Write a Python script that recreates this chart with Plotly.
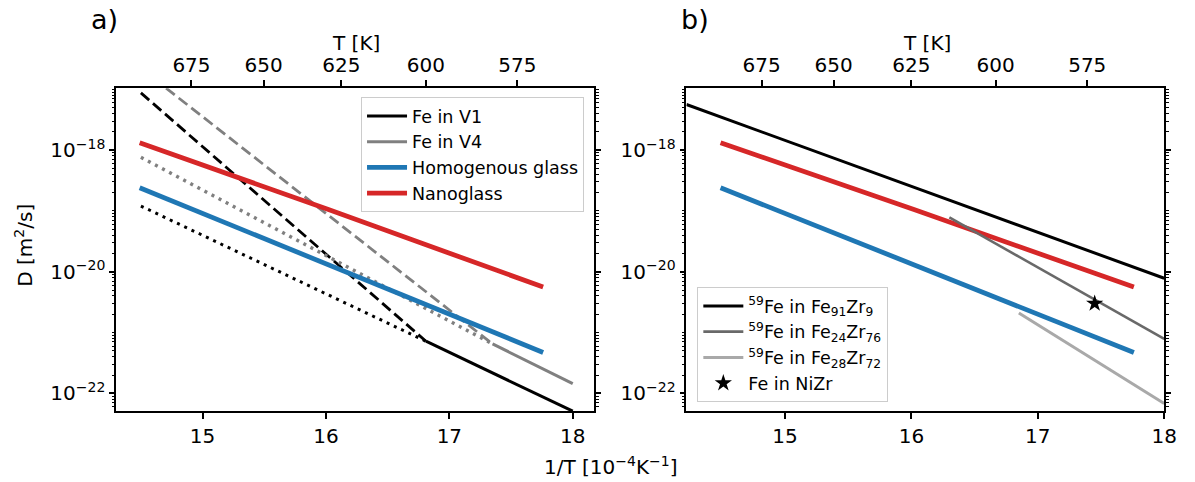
import plotly.graph_objects as go

# ---------------- data (x = 1/T in 1e-4 K^-1, D in m^2/s) ----------------
# panel a
x_v1_dash = [14.50, 16.81]
D_v1_dash = [8.7e-18, 7.2e-22]
x_v1_dot = [14.50, 16.81]
D_v1_dot = [1.2e-19, 7.2e-22]
x_v1 = [16.81, 18.00]
D_v1 = [7.2e-22, 5.1e-23]

x_v4_dash = [14.50, 17.35]
D_v4_dash = [2.2e-17, 6.5e-22]
x_v4_dot = [14.50, 17.35]
D_v4_dot = [7.6e-19, 6.5e-22]
x_v4 = [17.35, 18.00]
D_v4 = [6.5e-22, 1.45e-22]

x_homo = [14.49, 16.02, 17.76]
D_homo = [2.4e-19, 1.29e-20, 4.7e-22]
x_nano = [14.49, 16.02, 17.76]
D_nano = [1.32e-18, 1.05e-19, 5.6e-21]

# panel b
x_fe91 = [14.22, 18.00]
D_fe91 = [5.6e-18, 7.8e-21]
x_fe24 = [16.30, 18.00]
D_fe24 = [7.8e-20, 7.9e-22]
x_fe28 = [16.85, 18.00]
D_fe28 = [2.1e-21, 6.8e-23]
x_nizr = [17.45]
D_nizr = [3.0e-21]

T_ticks = [675, 650, 625, 600, 575]
x_ticks = [15, 16, 17, 18]
y_major = [1e-22, 1e-20, 1e-18]
y_major_text = ["10<sup>\u221222</sup>", "10<sup>\u221220</sup>", "10<sup>\u221218</sup>"]

FONT = "DejaVu Sans"
BLUE = "#1f77b4"
RED = "#d62728"

fig = go.Figure()

def line(x, y, color, width, dash="solid", name=None, legend=None, xa="x", ya="y"):
    fig.add_trace(go.Scatter(
        x=x, y=y, mode="lines", xaxis=xa, yaxis=ya,
        line=dict(color=color, width=width, dash=dash),
        name=name if name else "", showlegend=name is not None,
        legend=legend if legend else "legend", hoverinfo="skip"))

# panel a
line(x_v1_dash, D_v1_dash, "black", 2.8, "11px,5px")
line(x_v1_dot, D_v1_dot, "black", 3, "3px,5px")
line(x_v4_dash, D_v4_dash, "gray", 2.8, "11px,5px")
line(x_v4_dot, D_v4_dot, "gray", 3.5, "3px,5px")
line(x_v1, D_v1, "black", 3, name="Fe in V1")
line(x_v4, D_v4, "gray", 3, name="Fe in V4")
line(x_homo, D_homo, BLUE, 4.8, name="Homogenous glass")
line(x_nano, D_nano, RED, 4.8, name="Nanoglass")

# panel b
line(x_homo, D_homo, BLUE, 4.8, xa="x2", ya="y2")
line(x_nano, D_nano, RED, 4.8, xa="x2", ya="y2")
line(x_fe91, D_fe91, "black", 3, name="<sup>59</sup>Fe in Fe<sub>91</sub>Zr<sub>9</sub>",
     legend="legend2", xa="x2", ya="y2")
line(x_fe24, D_fe24, "#696969", 2.6, name="<sup>59</sup>Fe in Fe<sub>24</sub>Zr<sub>76</sub>",
     legend="legend2", xa="x2", ya="y2")
line(x_fe28, D_fe28, "#a9a9a9", 3, name="<sup>59</sup>Fe in Fe<sub>28</sub>Zr<sub>72</sub>",
     legend="legend2", xa="x2", ya="y2")
fig.add_trace(go.Scatter(
    x=x_nizr, y=D_nizr, mode="markers", xaxis="x2", yaxis="y2",
    marker=dict(symbol="star", size=13, color="black"),
    name="Fe in NiZr", legend="legend2", hoverinfo="skip"))

# invisible helper traces so that the top (temperature) axes are drawn
x_top = [1e4 / t for t in T_ticks]
for xa, ya in (("x3", "y"), ("x4", "y2")):
    fig.add_trace(go.Scatter(
        x=x_top, y=[D_nizr[0]] * len(x_top), mode="markers", xaxis=xa, yaxis=ya,
        marker=dict(size=1, opacity=0), showlegend=False, hoverinfo="skip"))

# minor ticks for log axis
minor_vals = []
for e in range(-24, -15):
    for k in range(1, 10):
        v = k * 10.0 ** e
        if k == 1 and e in (-22, -20, -18):
            continue
        minor_vals.append(v)

W, H = 1195, 482
def px_x(p):
    return p / W
def px_y(p):
    return 1 - p / H

ydom = [px_y(411), px_y(88.3)]
xdom_a = [px_x(117.5), px_x(601)]
xdom_b = [px_x(694), px_x(1177)]

axis_common = dict(showline=True, linecolor="black", linewidth=1.8, showgrid=False,
                   zeroline=False, ticks="outside", tickwidth=1.6, ticklen=6,
                   tickcolor="black", tickfont=dict(family=FONT, size=20, color="black"))

def yaxis(anchor):
    d = dict(axis_common)
    d.update(type="log", range=[-22.29, -16.985], domain=ydom, anchor=anchor,
             tickmode="array", tickvals=y_major, ticktext=y_major_text, mirror="ticks",
             ticklen=5,
             minor=dict(tickmode="array", tickvals=minor_vals, ticks="outside", ticklen=2.5,
                        tickwidth=1, tickcolor="black"))
    return d

def xbottom(dom, rng, anchor):
    d = dict(axis_common)
    d.update(domain=dom, range=rng, anchor=anchor, tickmode="array", tickvals=x_ticks,
             ticktext=[str(v) for v in x_ticks])
    return d

def xtop(over, rng, anchor):
    d = dict(axis_common)
    d.update(overlaying=over, side="top", range=rng, anchor=anchor, tickmode="array",
             tickvals=x_top, ticktext=[str(t) for t in T_ticks])
    return d

def label(text, x, y, size=20, angle=0, xanchor="center"):
    return dict(text=text, x=px_x(x), y=px_y(y), xref="paper", yref="paper",
                xanchor=xanchor, yanchor="middle", showarrow=False, textangle=angle,
                font=dict(family=FONT, size=size, color="black"))

fig.update_layout(
    width=W, height=H, margin=dict(l=0, r=0, t=0, b=0),
    paper_bgcolor="white", plot_bgcolor="white",
    font=dict(family=FONT, color="black"),
    xaxis=xbottom(xdom_a, [14.30, 18.176], "y"),
    yaxis=yaxis("x"),
    xaxis2=xbottom(xdom_b, [14.22, 18.0], "y2"),
    yaxis2=yaxis("x2"),
    xaxis3=xtop("x", [14.22, 18.0], "y"),
    xaxis4=xtop("x2", [14.22, 18.0], "y2"),
    legend=dict(x=px_x(365), y=px_y(97), xanchor="left", yanchor="top",
                bgcolor="rgba(255,255,255,0.8)", bordercolor="#cccccc", borderwidth=1,
                font=dict(family=FONT, size=17.5, color="black"), tracegroupgap=0,
                itemwidth=40),
    legend2=dict(x=px_x(705), y=px_y(402), xanchor="left", yanchor="bottom",
                 bgcolor="rgba(255,255,255,0.8)", bordercolor="#cccccc", borderwidth=1,
                 font=dict(family=FONT, size=17.5, color="black"), tracegroupgap=0,
                 itemwidth=40),
    showlegend=True,
    annotations=[
        label("a)", 90, 20, size=27, xanchor="left"),
        label("b)", 686, 20, size=27, xanchor="left"),
        label("T [K]", 360, 43),
        label("T [K]", 937, 43),
        label("1/T [10<sup>\u22124</sup>K<sup>\u22121</sup>]", 618, 466),
        label("D [m<sup>2</sup>/s]", 24, 245, angle=-90),
    ],
)

fig.write_html("out.html")
